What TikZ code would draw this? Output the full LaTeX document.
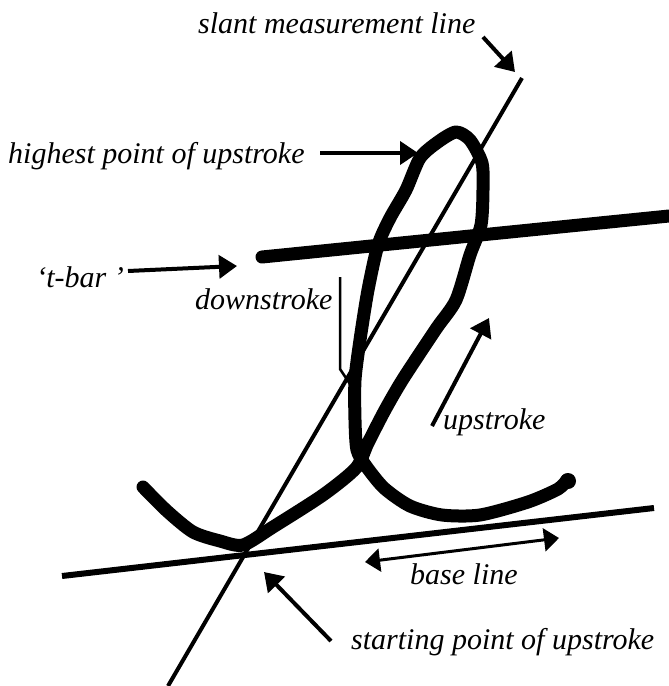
\documentclass[tikz,border=0pt]{standalone}
\usepackage{fontspec}
\setmainfont{Liberation Serif}
\usetikzlibrary{arrows.meta}
\begin{document}
\begin{tikzpicture}[x=1pt,y=-1pt,
  lbl/.style={inner sep=0pt,anchor=base west,font=\fontsize{30}{32}\selectfont\itshape},
  pointer/.style={line width=4pt,-{Triangle[length=18pt,width=23pt]}},
  twoway/.style={line width=3pt,{Triangle[length=15pt,width=23pt]}-{Triangle[length=15pt,width=23pt]}},
  guide/.style={line width=4pt},
  ink/.style={line width=13pt,line cap=round,line join=round}]
\useasboundingbox (0,0) rectangle (669,686);
% labels
\node[lbl] (tslant) at (198,33) {slant measurement line};
\node[lbl] (thigh) at (8,163) {highest point of upstroke};
\node[lbl,anchor=base east] (ttbar) at (124,287) {`t-bar '};
\node[lbl] (tdown) at (195,309) {downstroke};
\node[lbl] (tup) at (443,429) {upstroke};
\node[lbl] (tbase) at (410,584) {base line};
\node[lbl] (tstart) at (351,649) {starting point of upstroke};
% coordinates
\coordinate (slTop) at (522,78);
\coordinate (slBot) at (168,686);
\coordinate (blL) at (62,576);
\coordinate (blR) at (654,508);
\coordinate (tbL) at (262,257);
\coordinate (tbR) at (669,216);
% guide lines
\draw[guide] (slTop) -- (slBot);
\draw[line width=6pt] (blL) -- (blR);
\draw[line width=13pt,line cap=round] (tbL) -- (tbR);
% letter stroke
\draw[ink] plot[smooth,tension=0.45] coordinates {
 (143,487) (167,511) (193,532) (220,541) (243,545) (273,527) (323,495)
 (356,468) (368,443) (385,410) (403,379) (436,329) (456,300) (470,255)
 (481,225) (483,190) (482,163) (470,140) (456,132) (438,142) (420,158)
 (406,190) (390,218) (378,245) (368,290) (360,340) (355,380) (355,420)
 (357,450) (366,466) (384,488) (410,506) (442,515) (480,515) (528,502)
 (558,489) (567,480)};
\fill (568,481) circle (8);
% pointers
\coordinate (aSlT) at (483,37);
\coordinate (aSlH) at (515,72);
\draw[pointer] (aSlT) -- (aSlH);
\coordinate (aHiT) at (320,153);
\coordinate (aHiH) at (418,153);
\draw[pointer] (aHiT) -- (aHiH);
\coordinate (aTbT) at (128,271);
\coordinate (aTbH) at (237,266);
\draw[pointer] (aTbT) -- (aTbH);
\coordinate (aUpT) at (432,426);
\coordinate (aUpH) at (489,318);
\draw[pointer] (aUpT) -- (aUpH);
\coordinate (aBaL) at (365,562);
\coordinate (aBaR) at (559,538);
\draw[twoway] (aBaL) -- (aBaR);
\coordinate (aStT) at (331,641);
\coordinate (aStH) at (264,572);
\draw[pointer] (aStT) -- (aStH);
% downstroke leader
\coordinate (dA) at (340,277);
\coordinate (dB) at (340,369);
\coordinate (dC) at (352,387);
\draw[line width=2.5pt] (dA) -- (dB) -- (dC);
\end{tikzpicture}
\end{document}
